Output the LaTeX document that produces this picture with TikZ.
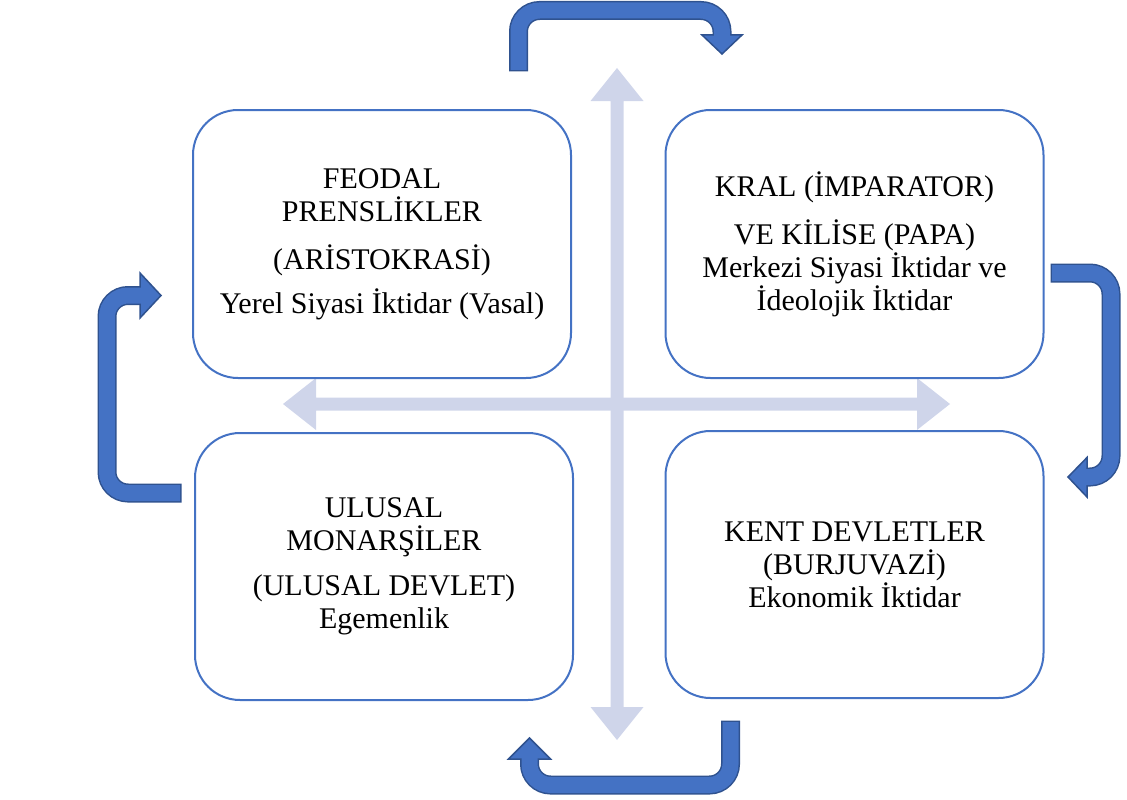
\documentclass[tikz,border=0pt]{standalone}
\usepackage{fontspec}
\setmainfont{Liberation Serif}
\definecolor{boxblue}{HTML}{4472C4}
\definecolor{arrowblue}{HTML}{4472C4}
\definecolor{arrowdark}{HTML}{2F528F}
\definecolor{crosslight}{HTML}{CFD5EA}
\begin{document}
\begin{tikzpicture}[x=1pt,y=-1pt,
  stagebox/.style={draw=boxblue, line width=2pt, rounded corners=45pt, fill=white,
    minimum width=378pt, minimum height=268pt, align=center, inner sep=0pt,
    font=\fontsize{30}{33}\selectfont},
  uouter/.style={draw=arrowdark, line width=19pt, rounded corners=21pt},
  uinner/.style={draw=arrowblue, line width=16pt, rounded corners=21pt},
  uhead/.style={fill=arrowblue, draw=arrowdark, line width=1.5pt, line join=miter},
  crossarrow/.style={fill=crosslight}]
\useasboundingbox (0,0) rectangle (1127,800);

% light cross arrows
\fill[crossarrow] (610.5,101) -- (590.5,101) -- (617,68) -- (643.5,101) -- (623.5,101)
  -- (623.5,707) -- (643.5,707) -- (617,740) -- (590.5,707) -- (610.5,707) -- cycle;
\fill[crossarrow] (316,397.5) -- (316,378) -- (283,404) -- (316,430) -- (316,410.5)
  -- (917,410.5) -- (917,430) -- (950,404) -- (917,378) -- (917,397.5) -- cycle;

% boxes
\node[stagebox] (tl) at (382,244) {FEODAL\\PRENSLİKLER\\[15pt](ARİSTOKRASİ)\\[11pt]Yerel Siyasi İktidar (Vasal)};
\node[stagebox] (tr) at (854.5,244) {KRAL (İMPARATOR)\\[15pt]VE KİLİSE (PAPA)\\Merkezi Siyasi İktidar ve\\İdeolojik İktidar};
\node[stagebox, minimum height=267pt] (bl) at (384,566.5) {ULUSAL\\MONARŞİLER\\[12pt](ULUSAL DEVLET)\\Egemenlik};
\node[stagebox, minimum height=267pt] (br) at (854.5,564.5) {KENT DEVLETLER\\(BURJUVAZİ)\\Ekonomik İktidar};

% U-turn arrow top (tl -> tr)
\coordinate (a1s) at (518.5,70);
\draw[uouter] (518.5,71.5) -- (518.5,10.5) -- (722,10.5) -- (722,35);
\filldraw[uhead] (702,35) -- (742,35) -- (722,54) -- cycle;
\draw[uinner] (a1s) -- (518.5,10.5) -- (722,10.5) -- (722,37);

% U-turn arrow right (tr -> br)
\coordinate (a2s) at (1052,273);
\draw[uouter] (1050.5,273) -- (1111,273) -- (1111,477) -- (1087,477);
\filldraw[uhead] (1087,457.5) -- (1087,497) -- (1068,477) -- cycle;
\draw[uinner] (a2s) -- (1111,273) -- (1111,477) -- (1085,477);

% U-turn arrow bottom (br -> bl)
\coordinate (a3s) at (730.5,722);
\draw[uouter] (730.5,720.5) -- (730.5,785) -- (529.5,785) -- (529.5,759);
\filldraw[uhead] (508.5,759) -- (550.5,759) -- (529.5,738) -- cycle;
\draw[uinner] (a3s) -- (730.5,785) -- (529.5,785) -- (529.5,757);

% U-turn arrow left (bl -> tl)
\coordinate (a4s) at (180,493);
\draw[uouter] (181.5,493) -- (107,493) -- (107,295.5) -- (140,295.5);
\filldraw[uhead] (140,273) -- (140,318) -- (161,295.5) -- cycle;
\draw[uinner] (a4s) -- (107,493) -- (107,295.5) -- (142,295.5);
\end{tikzpicture}
\end{document}
